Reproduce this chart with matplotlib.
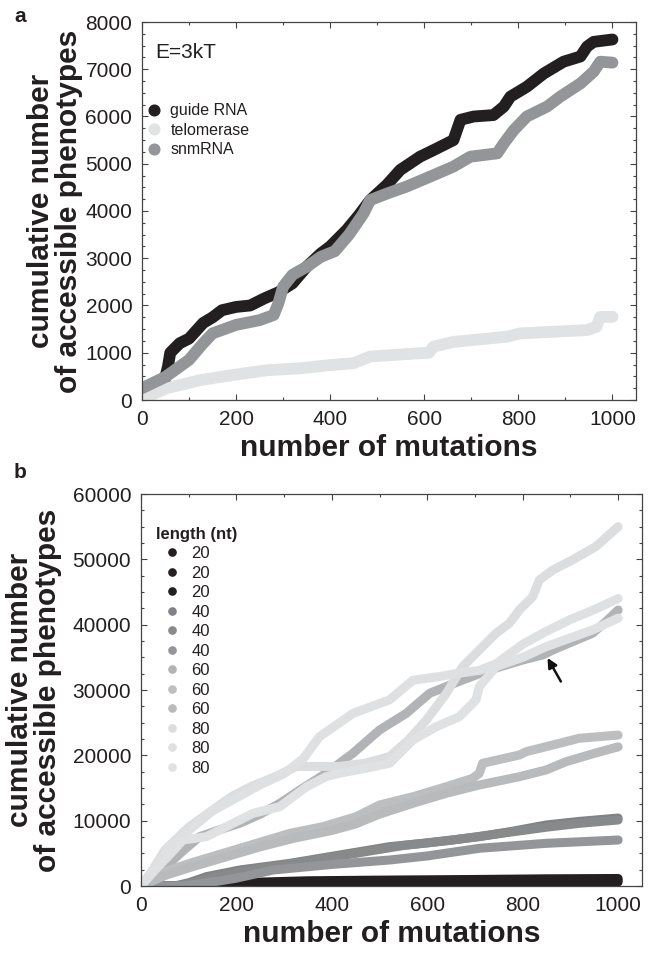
import matplotlib
matplotlib.use("Agg")
import matplotlib.pyplot as plt
from matplotlib.lines import Line2D
from matplotlib.ticker import MultipleLocator

plt.rcParams['font.family'] = ['Liberation Sans', 'DejaVu Sans']

# ---------------- Panel a data ----------------
a_names = ["guide RNA", "telomerase", "snmRNA"]
a_colors = ["#231f20", "#e1e2e3", "#939598"]

guide_x = [0, 20, 45, 55, 60, 80, 100, 130, 150, 170, 200, 230, 260, 290, 320, 350, 380, 400, 435,
           460, 485, 520, 549, 591, 620, 662, 677, 705, 747, 769, 783, 818, 854, 896, 932, 946, 960, 1000]
guide_y = [150, 250, 300, 700, 1000, 1200, 1300, 1630, 1750, 1900, 1970, 2000, 2150, 2280, 2470, 2820,
           3100, 3250, 3600, 3900, 4230, 4550, 4870, 5150, 5290, 5500, 5930, 6000, 6030, 6210, 6420, 6630,
           6910, 7160, 7270, 7480, 7580, 7630]

telo_x = [10, 30, 52, 95, 123, 194, 265, 336, 400, 450, 485, 591, 610, 620, 662, 776, 804, 946, 966, 974, 1000]
telo_y = [70, 150, 250, 350, 420, 530, 630, 670, 740, 780, 920, 990, 1000, 1130, 1230, 1340, 1410, 1480,
          1550, 1760, 1760]

snm_x = [0, 50, 100, 130, 150, 200, 250, 280, 290, 300, 320, 350, 380, 410, 440, 471, 485, 521, 563, 613,
         662, 698, 755, 769, 790, 818, 861, 889, 932, 960, 974, 1000]
snm_y = [250, 490, 850, 1200, 1410, 1590, 1690, 1800, 2050, 2400, 2650, 2820, 3030, 3150, 3500, 3950, 4230,
         4370, 4520, 4730, 4940, 5150, 5220, 5430, 5710, 6000, 6210, 6420, 6700, 6950, 7160, 7140]

a_series = [(guide_x, guide_y), (telo_x, telo_y), (snm_x, snm_y)]

# ---------------- Panel b data ----------------
b_lengths = [20, 20, 20, 40, 40, 40, 60, 60, 60, 80, 80, 80]
b_colors = ["#231f20", "#231f20", "#231f20",
            "#808285", "#87898b", "#939598",
            "#b1b3b6", "#bcbec0", "#b8babc",
            "#dcdddf", "#dfe0e1", "#e0e1e2"]

s20a_x = [0, 140, 180, 250, 350, 500, 700, 850, 1000]
s20a_y = [0, 0, 300, 600, 800, 900, 1000, 1100, 1150]
s20b_x = [0, 150, 220, 320, 500, 700, 1000]
s20b_y = [0, 0, 250, 500, 650, 750, 900]
s20c_x = [0, 160, 300, 500, 700, 1000]
s20c_y = [0, 0, 200, 350, 450, 600]

s40a_x = [0, 70, 100, 137, 207, 312, 416, 521, 600, 709, 780, 849, 920, 1000]
s40a_y = [0, 0, 500, 1430, 2450, 3470, 4740, 6020, 6600, 7550, 8400, 9340, 9900, 10400]
s40b_x = [0, 80, 120, 170, 250, 350, 450, 550, 650, 750, 850, 920, 1000]
s40b_y = [0, 0, 700, 1700, 2700, 3800, 5000, 6200, 7000, 8000, 9000, 9600, 10100]
s40c_x = [0, 90, 150, 200, 277, 400, 521, 600, 709, 849, 1000]
s40c_y = [0, 0, 600, 1200, 2450, 3300, 3980, 4600, 5770, 6530, 7040]

s60a_x = [0, 30, 60, 90, 123, 160, 207, 250, 291, 333, 388, 444, 500, 556, 605, 674, 730, 800, 842, 863,
          946, 975, 1000]
s60a_y = [0, 1500, 3500, 5500, 7550, 8500, 9600, 11000, 12660, 14700, 17250, 20310, 23880, 26430, 29500,
          31530, 33060, 34590, 35360, 36120, 38680, 40500, 42250]
s60b_x = [0, 40, 102, 172, 242, 312, 381, 451, 500, 570, 640, 695, 709, 716, 793, 807, 877, 918, 1000]
s60b_y = [0, 1940, 3470, 5000, 6530, 8060, 9080, 10610, 12400, 13670, 15200, 16480, 17250, 18780, 20050,
          20560, 21840, 22610, 23100]
s60c_x = [0, 50, 110, 180, 250, 320, 400, 450, 500, 570, 640, 709, 793, 849, 891, 950, 1000]
s60c_y = [0, 1600, 3000, 4500, 6000, 7300, 8500, 9500, 11000, 12660, 14190, 15460, 16730, 17760, 19030,
          20300, 21300]

s80a_x = [0, 20, 50, 100, 140, 190, 230, 280, 326, 416, 470, 521, 560, 598, 640, 674, 709, 744, 772, 793,
          821, 835, 863, 904, 953, 1000]
s80a_y = [0, 1900, 5500, 9000, 11100, 13700, 15200, 16700, 18300, 18300, 18800, 19800, 22300, 25400, 29500,
          33570, 36120, 38680, 40210, 42250, 44280, 46840, 48370, 49900, 51940, 55000]
s80b_x = [0, 25, 60, 100, 150, 200, 250, 300, 340, 374, 444, 521, 570, 620, 660, 709, 744, 800, 850, 900,
          950, 1000]
s80b_y = [0, 2500, 6000, 8500, 11500, 13500, 15500, 17200, 19500, 22850, 26400, 28500, 31500, 32000, 32500,
          33000, 34000, 37000, 39000, 40800, 42300, 44000]
s80c_x = [0, 30, 60, 88, 137, 179, 235, 291, 347, 388, 416, 470, 521, 570, 619, 667, 702, 709, 744, 800,
          849, 946, 1000]
s80c_y = [0, 2500, 4800, 7040, 7550, 9080, 11130, 12140, 15200, 16730, 17250, 18000, 18780, 22350, 24390,
          25910, 28470, 30500, 33570, 35000, 36630, 39180, 41000]

b_series = [(s20a_x, s20a_y), (s20b_x, s20b_y), (s20c_x, s20c_y),
            (s40a_x, s40a_y), (s40b_x, s40b_y), (s40c_x, s40c_y),
            (s60a_x, s60a_y), (s60b_x, s60b_y), (s60c_x, s60c_y),
            (s80a_x, s80a_y), (s80b_x, s80b_y), (s80c_x, s80c_y)]
# colour index of each series in b_colors (legend order)
b_series_color = [0, 1, 2, 3, 4, 5, 6, 7, 8, 9, 10, 11]

arrow_tip = (852, 34900)
arrow_tail = (880, 31300)

# ---------------- Figure ----------------
TXT = "#231f20"
fig = plt.figure(figsize=(6.51, 9.55), dpi=100)
axa = fig.add_axes([142/651, 1-400/955, 494/651, 378/955])
axb = fig.add_axes([141/651, 1-886/955, 501/651, 392/955])


def style_axis(ax, xmajor, ymajor, xminor, yminor):
    ax.xaxis.set_major_locator(MultipleLocator(xmajor))
    ax.yaxis.set_major_locator(MultipleLocator(ymajor))
    ax.xaxis.set_minor_locator(MultipleLocator(xminor))
    ax.yaxis.set_minor_locator(MultipleLocator(yminor))
    ax.tick_params(which='both', direction='in', top=True, right=True, colors='#444444',
                   labelcolor=TXT, width=0.8)
    ax.tick_params(which='major', length=4, labelsize=15, pad=7)
    ax.tick_params(which='minor', length=2.5)
    for s in ax.spines.values():
        s.set_color('#444444')
        s.set_linewidth(0.9)


# Panel a
for (xs, ys), c in zip(a_series, a_colors):
    axa.plot(xs, ys, color=c, lw=8.5, solid_capstyle='round', solid_joinstyle='round')
axa.set_xlim(0, 1050)
axa.set_ylim(0, 8000)
style_axis(axa, 200, 1000, 100, 250)
axa.set_xlabel("number of mutations", fontsize=21.5, fontweight='bold', color=TXT, labelpad=4)
axa.set_ylabel("cumulative number\nof accessible phenotypes", fontsize=21.5, fontweight='bold',
               color=TXT, linespacing=1.0, labelpad=2)
axa.text(0.027, 0.918, "E=3kT", transform=axa.transAxes, fontsize=15, color=TXT, va='center', ha='left')
handles_a = [Line2D([], [], marker='o', ls='none', color=c, markersize=7.7) for c in a_colors]
la = axa.legend(handles_a, a_names, loc='upper left', bbox_to_anchor=(0.012, 0.785), frameon=False,
                fontsize=11.5, handlelength=0.8, handletextpad=0.6, labelspacing=0.28, borderpad=0,
                borderaxespad=0)
for t in la.get_texts():
    t.set_color(TXT)

# Panel b
for (xs, ys), ci in zip(b_series, b_series_color):
    axb.plot(xs, ys, color=b_colors[ci], lw=6.5, solid_capstyle='round', solid_joinstyle='round')
axb.set_xlim(0, 1050)
axb.set_ylim(0, 60000)
style_axis(axb, 200, 10000, 100, 2500)
axb.set_xlabel("number of mutations", fontsize=21.5, fontweight='bold', color=TXT, labelpad=4)
axb.set_ylabel("cumulative number\nof accessible phenotypes", fontsize=21.5, fontweight='bold',
               color=TXT, linespacing=1.0, labelpad=8)
axb.annotate("", xy=arrow_tip, xytext=arrow_tail,
             arrowprops=dict(arrowstyle='-|>', color='#111111', lw=1.8, mutation_scale=14,
                             shrinkA=0, shrinkB=0))
handles_b = [Line2D([], [], marker='o', ls='none', color=c, markersize=5.2) for c in b_colors]
lb = axb.legend(handles_b, [str(v) for v in b_lengths], loc='upper left', bbox_to_anchor=(0.029, 0.917),
                frameon=False, fontsize=12, handlelength=2.0, handletextpad=0.15, labelspacing=0.27,
                borderpad=0, borderaxespad=0, title="length (nt)", alignment='left',
                title_fontproperties={'weight': 'bold', 'size': 12})
lb.get_title().set_color(TXT)
for t in lb.get_texts():
    t.set_color(TXT)

fig.text(20/651, 1-16/955, "a", fontsize=15, fontweight='bold', color=TXT, ha='center', va='center')
fig.text(20/651, 1-472/955, "b", fontsize=15, fontweight='bold', color=TXT, ha='center', va='center')

fig.savefig("out.png", dpi=100, facecolor='white')
